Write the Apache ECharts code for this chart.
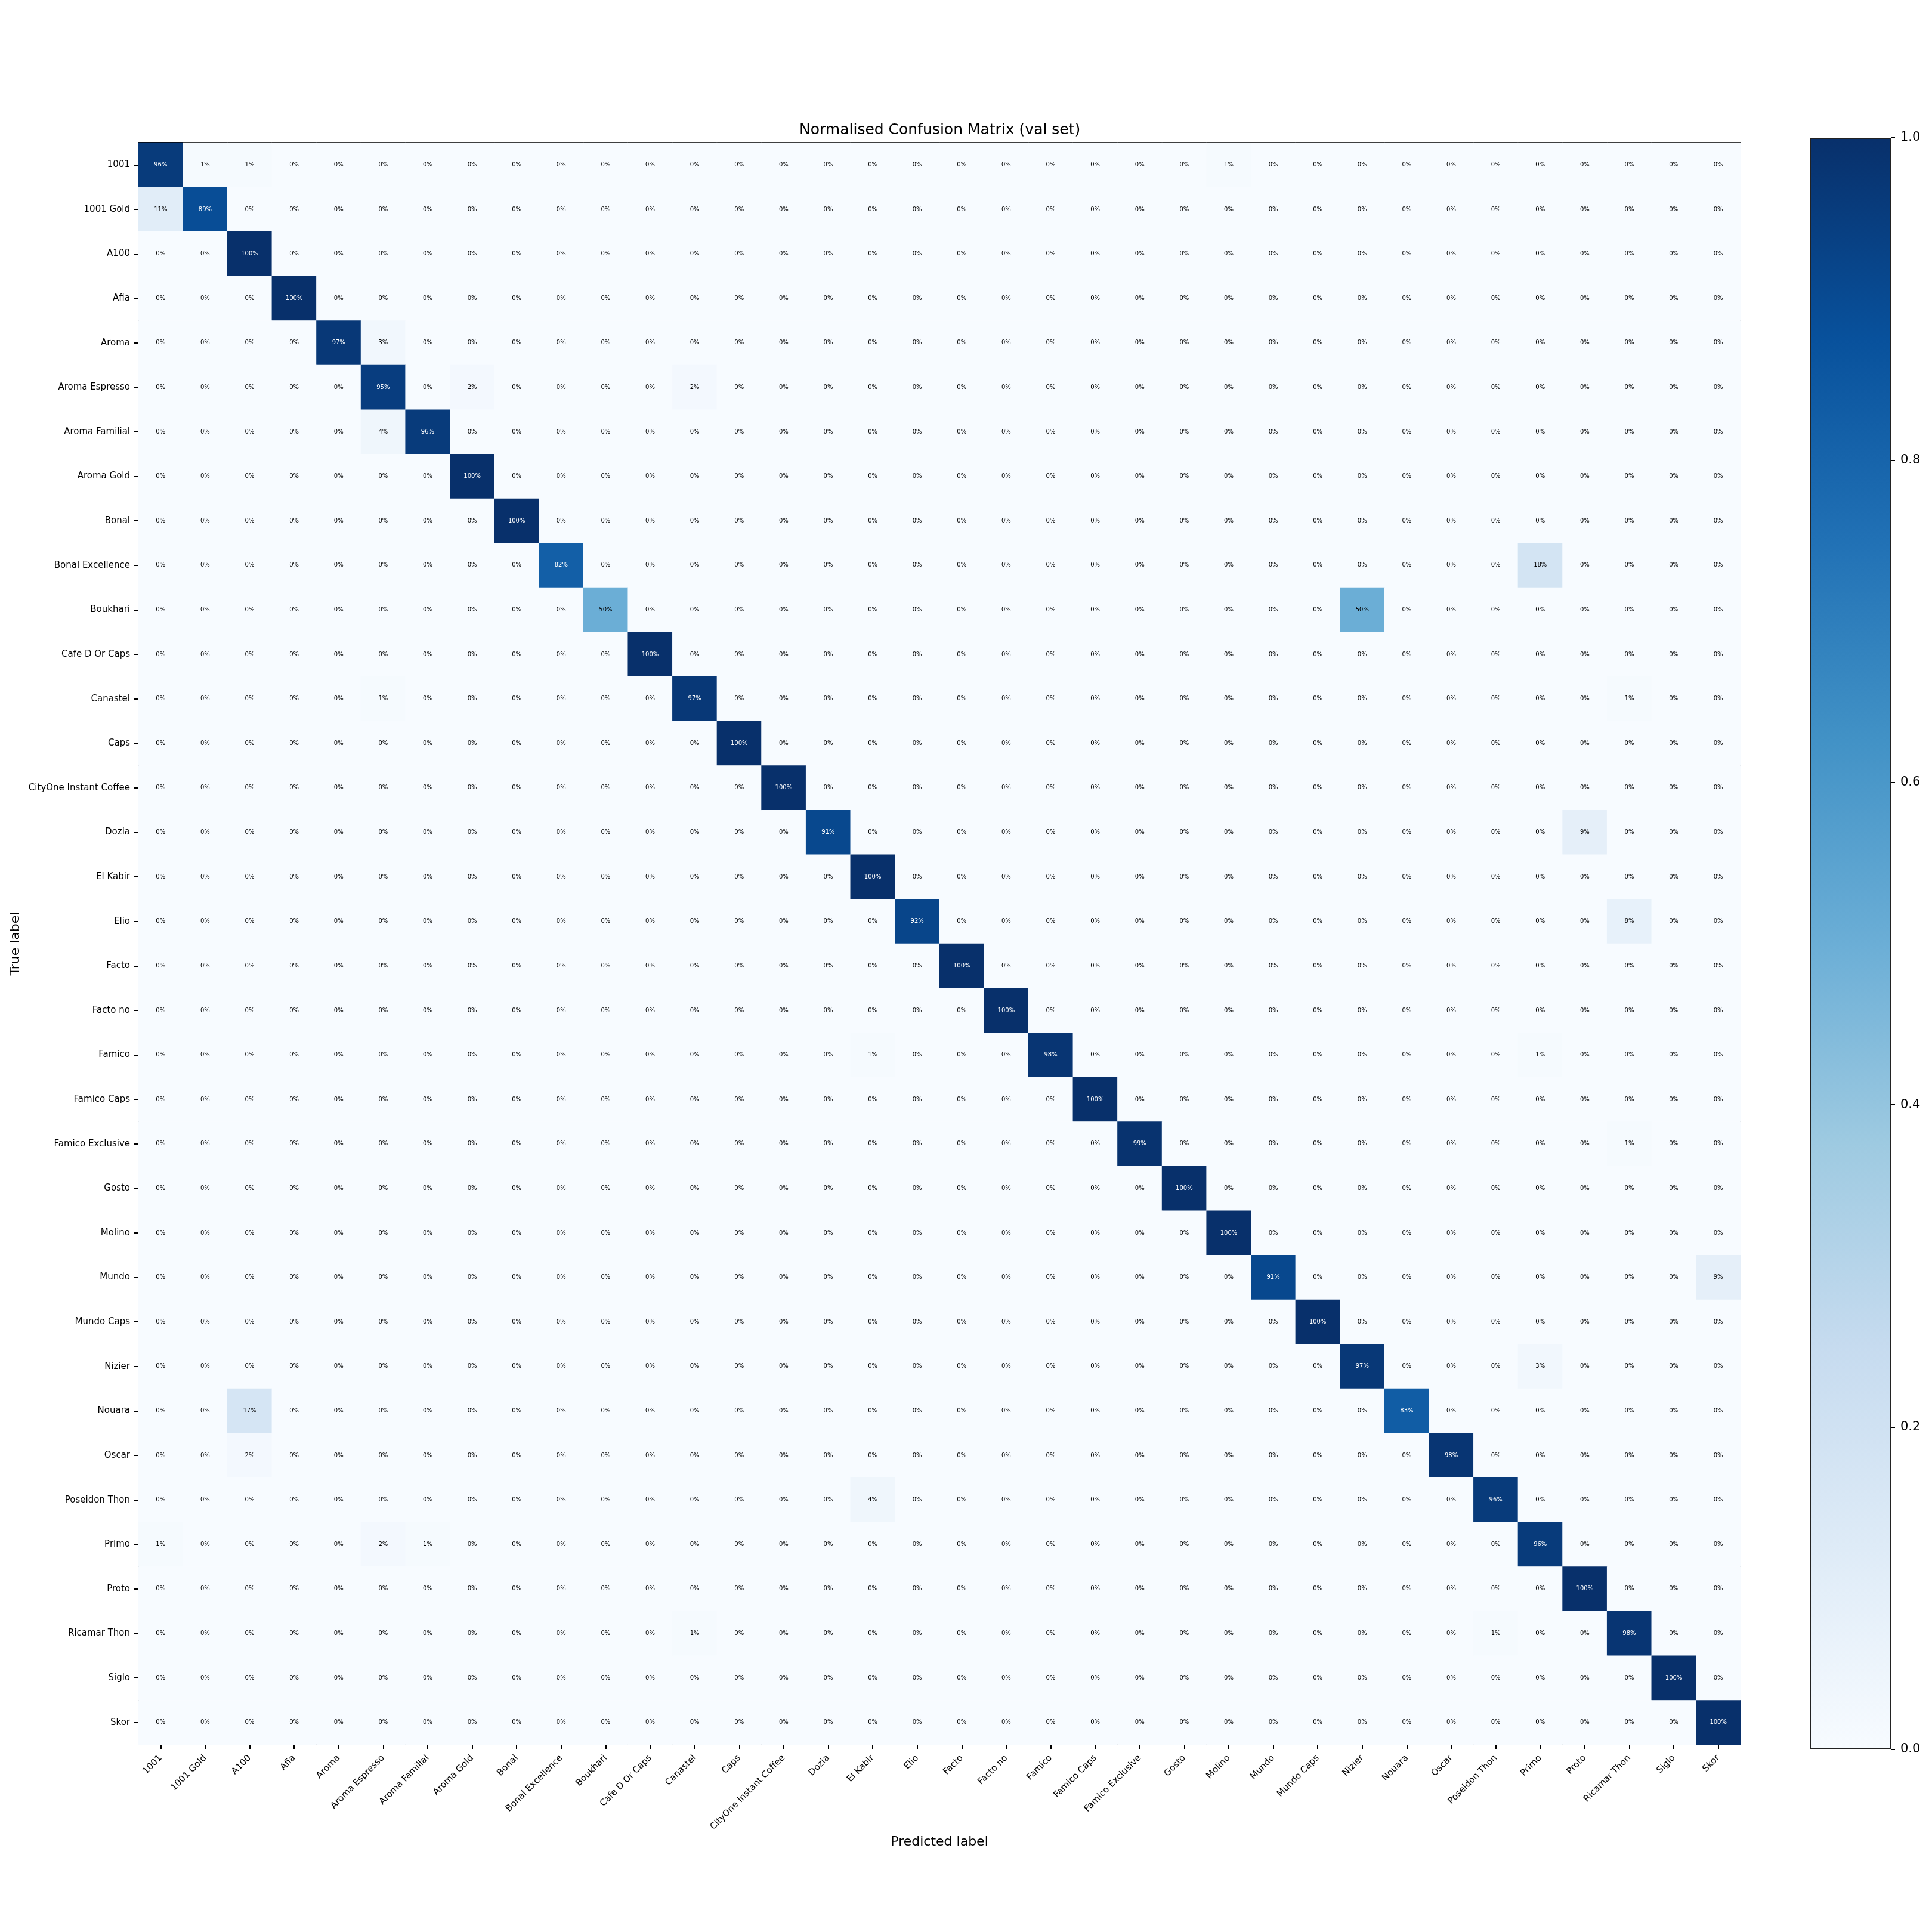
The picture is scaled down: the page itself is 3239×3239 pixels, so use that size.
<!DOCTYPE html>
<html>
<head>
<meta charset="utf-8">
<script src="https://cdn.jsdelivr.net/npm/echarts@6/dist/echarts.min.js"></script>
<style>
  html, body { margin: 0; padding: 0; background: #fff; }
  #main { width: 3239px; height: 3239px; }
</style>
</head>
<body>
<div id="main"></div>
<script>
var myChart = echarts.init(document.getElementById('main'));

// class names (rows = true label, cols = predicted label)
var classes = ['1001', '1001 Gold', 'A100', 'Afia', 'Aroma', 'Aroma Espresso', 'Aroma Familial',
  'Aroma Gold', 'Bonal', 'Bonal Excellence', 'Boukhari', 'Cafe D Or Caps', 'Canastel', 'Caps',
  'CityOne Instant Coffee', 'Dozia', 'El Kabir', 'Elio', 'Facto', 'Facto no', 'Famico',
  'Famico Caps', 'Famico Exclusive', 'Gosto', 'Molino', 'Mundo', 'Mundo Caps', 'Nizier',
  'Nouara', 'Oscar', 'Poseidon Thon', 'Primo', 'Proto', 'Ricamar Thon', 'Siglo', 'Skor'];

// diagonal values, in percent
var diagonal = [96, 89, 100, 100, 97, 95, 96, 100, 100, 82, 50, 100, 97, 100, 100, 91, 100, 92,
  100, 100, 98, 100, 99, 100, 100, 91, 100, 97, 83, 98, 96, 96, 100, 98, 100, 100];

// off-diagonal cells that are not 0%: [row, col, percent]
var offDiagonal = [
  [0, 1, 1], [0, 2, 1], [0, 24, 1],
  [1, 0, 11],
  [4, 5, 3],
  [5, 7, 2], [5, 12, 2],
  [6, 5, 4],
  [9, 31, 18],
  [10, 27, 50],
  [12, 5, 1], [12, 33, 1],
  [15, 32, 9],
  [17, 33, 8],
  [20, 16, 1], [20, 31, 1],
  [22, 33, 1],
  [25, 35, 9],
  [27, 31, 3],
  [28, 2, 17],
  [29, 2, 2],
  [30, 16, 4],
  [31, 0, 1], [31, 5, 2], [31, 6, 1],
  [33, 12, 1], [33, 30, 1]
];

var colorTicks = [0, 0.2, 0.4, 0.6, 0.8, 1.0];

// matplotlib "Blues"
var blues = ['#f7fbff', '#deebf7', '#c6dbef', '#9ecae1', '#6baed6',
  '#4292c6', '#2171b5', '#08519c', '#08306b'];

var n = classes.length;
var matrix = [];
for (var i = 0; i < n; i++) {
  matrix.push([]);
  for (var j = 0; j < n; j++) matrix[i].push(i === j ? diagonal[i] : 0);
}
offDiagonal.forEach(function (d) { matrix[d[0]][d[1]] = d[2]; });

var cells = [];
for (var r = 0; r < n; r++) {
  for (var c = 0; c < n; c++) {
    var v = matrix[r][c] / 100;
    cells.push({
      value: [c, r, v],
      label: { color: v > 0.5 ? '#ffffff' : '#000000' }
    });
  }
}

var font = 'DejaVu Sans';
var gradStops = blues.map(function (col, k) {
  return { offset: 1 - k / (blues.length - 1), color: col };
});

option = {
  animation: false,
  backgroundColor: '#ffffff',
  textStyle: { fontFamily: font },
  title: {
    text: 'Normalised Confusion Matrix (val set)',
    left: 1340,
    top: 206,
    padding: 0,
    textStyle: { fontFamily: font, fontSize: 25, fontWeight: 'normal', color: '#000' }
  },
  grid: [
    { left: 232, top: 239, width: 2686, height: 2686 },
    { left: 3034, top: 231, width: 136, height: 2702 }
  ],
  visualMap: {
    show: false,
    type: 'continuous',
    seriesIndex: 0,
    min: 0,
    max: 1,
    inRange: { color: blues }
  },
  xAxis: [{
    type: 'category',
    gridIndex: 0,
    data: classes,
    name: 'Predicted label',
    nameLocation: 'middle',
    nameGap: 150,
    nameTextStyle: { fontFamily: font, fontSize: 22, color: '#000' },
    axisLine: { show: true, lineStyle: { color: '#000', width: 2 } },
    axisTick: { show: true, alignWithLabel: true, length: 7, lineStyle: { color: '#000', width: 2 } },
    axisLabel: { interval: 0, rotate: 45, fontSize: 15, margin: 20, color: '#000', fontFamily: font },
    splitLine: { show: false }
  }, {
    type: 'category',
    gridIndex: 0,
    position: 'top',
    data: classes,
    axisLine: { show: true, lineStyle: { color: '#000', width: 2 } },
    axisTick: { show: false },
    axisLabel: { show: false }
  }, {
    type: 'category',
    gridIndex: 1,
    data: [''],
    show: false
  }],
  yAxis: [{
    type: 'category',
    gridIndex: 0,
    data: classes,
    inverse: true,
    name: 'True label',
    nameLocation: 'middle',
    nameGap: 180,
    nameTextStyle: { fontFamily: font, fontSize: 22, color: '#000' },
    axisLine: { show: true, lineStyle: { color: '#000', width: 2 } },
    axisTick: { show: true, alignWithLabel: true, length: 7, lineStyle: { color: '#000', width: 2 } },
    axisLabel: { interval: 0, fontSize: 15, margin: 14, color: '#000', fontFamily: font },
    splitLine: { show: false }
  }, {
    type: 'category',
    gridIndex: 0,
    position: 'right',
    data: classes,
    inverse: true,
    axisLine: { show: true, lineStyle: { color: '#000', width: 2 } },
    axisTick: { show: false },
    axisLabel: { show: false }
  }, {
    type: 'value',
    gridIndex: 1,
    position: 'right',
    min: 0,
    max: 1,
    interval: 0.2,
    axisLine: { show: false },
    axisTick: { show: true, length: 7, lineStyle: { color: '#000', width: 2 } },
    axisLabel: {
      fontSize: 21, margin: 16, color: '#000', fontFamily: font,
      formatter: function (v) { return v.toFixed(1); }
    },
    splitLine: { show: false }
  }],
  series: [{
    type: 'heatmap',
    xAxisIndex: 0,
    yAxisIndex: 0,
    data: cells,
    label: {
      show: true,
      fontSize: 10,
      fontFamily: font,
      formatter: function (p) { return Math.round(p.value[2] * 100) + '%'; }
    },
    emphasis: { disabled: true }
  }, {
    type: 'bar',
    xAxisIndex: 2,
    yAxisIndex: 2,
    data: colorTicks.slice(-1),
    barWidth: '100%',
    silent: true,
    itemStyle: {
      borderColor: '#222',
      borderWidth: 2,
      color: new echarts.graphic.LinearGradient(0, 0, 0, 1, gradStops)
    }
  }]
};

if (option && typeof option === 'object') {
  myChart.setOption(option, true);
}
</script>
</body>
</html>
